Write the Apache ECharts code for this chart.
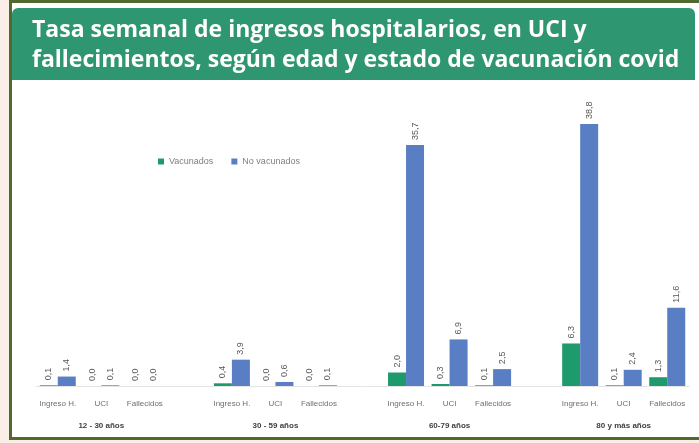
<!DOCTYPE html>
<html>
<head>
<meta charset="utf-8">
<script src="https://cdn.jsdelivr.net/npm/echarts@6/dist/echarts.min.js"></script>
<style>
    html, body { margin: 0; padding: 0; background: #fbeee9; }
    #chart { width: 699px; height: 443px; }
</style>
</head>
<body>
<div id="chart"></div>
<script>
// grupos de edad y tipo de evento
var groups = ["12 - 30 años", "30 - 59 años", "60-79 años", "80 y más años"];
var subCats = ["Ingreso H.", "UCI", "Fallecidos"];
// tasa semanal por grupo (Ingreso H., UCI, Fallecidos)
var vacunados = [
    [0.1, 0.0, 0.0],
    [0.4, 0.0, 0.0],
    [2.0, 0.3, 0.1],
    [6.3, 0.1, 1.3]
];
var noVacunados = [
    [1.4, 0.1, 0.0],
    [3.9, 0.6, 0.1],
    [35.7, 6.9, 2.5],
    [38.8, 2.4, 11.6]
];

// se deja una posición vacía entre grupos
var catList = [];
var groupList = [];
var vacList = [];
var noVacList = [];
groups.forEach(function (g, i) {
    subCats.forEach(function (c, j) {
        catList.push(c);
        groupList.push(j === 1 ? g : "");
        vacList.push(vacunados[i][j]);
        noVacList.push(noVacunados[i][j]);
    });
    if (i < groups.length - 1) {
        catList.push("");
        groupList.push("");
        vacList.push("-");
        noVacList.push("-");
    }
});

var chartDom = echarts.init(document.getElementById("chart"));

var labelOpt = {
    show: true,
    position: "top",
    rotate: 90,
    align: "left",
    verticalAlign: "middle",
    distance: 5,
    fontSize: 9,
    fontFamily: "Liberation Sans",
    color: "#595959",
    formatter: function (p) {
        return p.value.toFixed(1).replace(".", ",");
    }
};

var option = {
    backgroundColor: "#fbeee9",
    animation: false,
    color: ["#1f9a6c", "#5a7ec4"],
    title: {
        text: "Tasa semanal de ingresos hospitalarios, en UCI y\nfallecimientos, según edad y estado de vacunación covid",
        left: 27,
        top: 10,
        textStyle: {
            color: "#ffffff",
            fontSize: 23,
            fontWeight: "bold",
            fontFamily: "Open Sans",
            lineHeight: 30
        }
    },
    graphic: [
        {
            type: "rect",
            z: -10,
            shape: { x: 10.5, y: 1.5, width: 700, height: 437 },
            style: { fill: "#ffffff", stroke: "#4f6a2c", lineWidth: 3 }
        },
        {
            type: "rect",
            z: -9,
            shape: { x: 12, y: 8, width: 683, height: 72, r: [6, 6, 0, 0] },
            style: { fill: "#2e9670" }
        }
    ],
    legend: {
        left: 153,
        top: 152,
        itemWidth: 6,
        itemHeight: 6,
        itemGap: 18,
        icon: "rect",
        textStyle: { fontSize: 9, color: "#7f7f7f", fontFamily: "Liberation Sans" },
        data: ["Vacunados", "No vacunados"]
    },
    grid: {
        left: 36,
        right: 10,
        top: 116,
        bottom: 57
    },
    xAxis: [
        {
            type: "category",
            data: catList,
            axisTick: { show: false },
            axisLine: { lineStyle: { color: "#e4e4e4" } },
            axisLabel: {
                interval: 0,
                margin: 14,
                fontSize: 8,
                color: "#6f6f6f",
                fontFamily: "Liberation Sans"
            }
        },
        {
            type: "category",
            data: groupList,
            position: "bottom",
            offset: 22,
            axisTick: { show: false },
            axisLine: { show: false },
            axisLabel: {
                interval: 0,
                margin: 14,
                fontSize: 8,
                fontWeight: "bold",
                color: "#404040",
                fontFamily: "Liberation Sans"
            }
        }
    ],
    yAxis: {
        type: "value",
        min: 0,
        max: 40,
        show: false,
        splitLine: { show: false }
    },
    series: [
        {
            name: "Vacunados",
            type: "bar",
            barWidth: 18,
            barGap: "0%",
            data: vacList,
            label: labelOpt
        },
        {
            name: "No vacunados",
            type: "bar",
            barWidth: 18,
            barGap: "0%",
            data: noVacList,
            label: labelOpt
        }
    ]
};

chartDom.setOption(option);
</script>
</body>
</html>
